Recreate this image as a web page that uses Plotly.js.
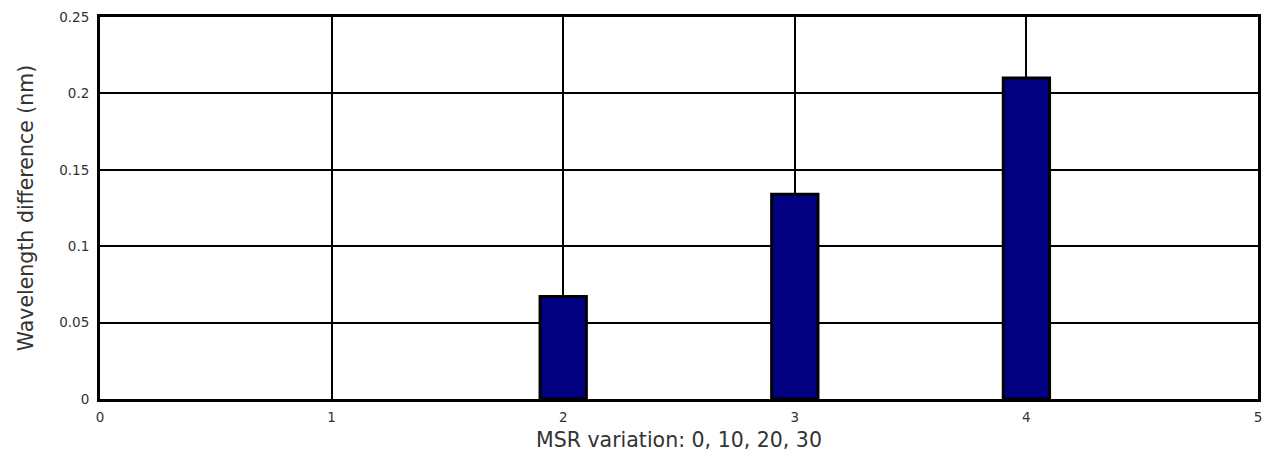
<!DOCTYPE html>
<html>
<head>
<meta charset="utf-8">
<script src="https://cdn.plot.ly/plotly-3.0.1.min.js"></script>
<style>
html,body{margin:0;padding:0;background:#fff;}
#chart{width:1274px;height:455px;}
</style>
</head>
<body>
<div id="chart"></div>
<script>
const xPositions = [1, 2, 3, 4];
const wavelengthDiff = [0, 0.067, 0.134, 0.21];
const xTickVals = [0, 1, 2, 3, 4, 5];
const xTickText = ['0', '1', '2', '3', '4', '5'];
const yTickVals = [0, 0.05, 0.1, 0.15, 0.2, 0.25];
const yTickText = ['0', '0.05', '0.1', '0.15', '0.2', '0.25'];
const xTitle = 'MSR variation: 0, 10, 20, 30';
const yTitle = 'Wavelength difference (nm)';

const trace = {
  type: 'bar',
  x: xPositions,
  y: wavelengthDiff,
  width: 0.2,
  marker: {
    color: '#000080',
    line: {color: '#000000', width: wavelengthDiff.map(v => v > 0 ? 3 : 0)}
  },
  hoverinfo: 'x+y'
};

const tickFont = {family: 'DejaVu Sans, sans-serif', size: 13.5, color: '#333'};
const titleFont = {family: 'DejaVu Sans, sans-serif', size: 20.5, color: '#333'};

const layout = {
  width: 1274,
  height: 455,
  margin: {l: 100, r: 16, t: 17, b: 56},
  paper_bgcolor: '#fff',
  plot_bgcolor: '#fff',
  showlegend: false,
  bargap: 0,
  xaxis: {
    range: [0, 5],
    tickvals: xTickVals,
    ticktext: xTickText,
    tickfont: tickFont,
    ticks: '',
    ticklabelstandoff: 4,
    showgrid: true,
    gridcolor: '#000',
    gridwidth: 2,
    zeroline: false,
    showline: true,
    linecolor: '#000',
    linewidth: 3,
    mirror: true,
    automargin: false,
    title: {text: xTitle, font: titleFont, standoff: 9}
  },
  yaxis: {
    range: [0, 0.25],
    tickvals: yTickVals,
    ticktext: yTickText,
    tickfont: tickFont,
    ticks: '',
    ticklabelstandoff: 5,
    showgrid: true,
    gridcolor: '#000',
    gridwidth: 2,
    zeroline: false,
    showline: true,
    linecolor: '#000',
    linewidth: 3,
    mirror: true,
    automargin: false,
    title: {text: yTitle, font: titleFont, standoff: 21}
  }
};

Plotly.newPlot('chart', [trace], layout, {displayModeBar: false, staticPlot: true});
</script>
</body>
</html>
